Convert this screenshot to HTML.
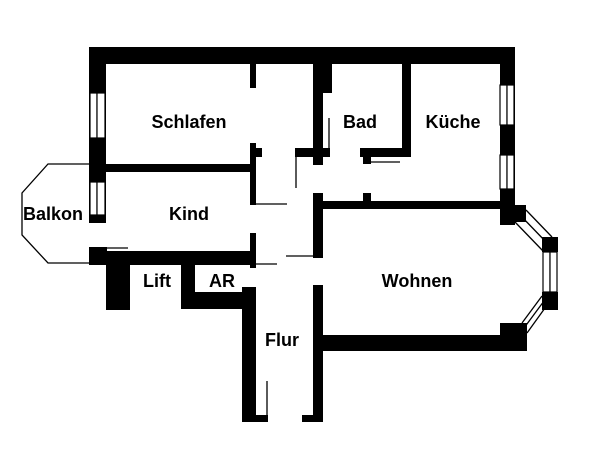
<!DOCTYPE html>
<html><head><style>
html,body{margin:0;padding:0;background:#fff;}
svg{display:block}
text{font-family:"Liberation Sans",Arial,sans-serif;font-weight:bold;font-size:18px;text-anchor:middle}
</style></head><body>
<svg width="600" height="451" viewBox="0 0 600 451">
<g fill="#000">
<rect x="89" y="47" width="426" height="17"/>
<rect x="89" y="47" width="17" height="176"/>
<rect x="106" y="164" width="146" height="8"/>
<rect x="250" y="64" width="6" height="24"/>
<rect x="250" y="143" width="6" height="62"/>
<rect x="256" y="148" width="6" height="9"/>
<rect x="250" y="233" width="6" height="35"/>
<rect x="89" y="247" width="18" height="18"/>
<rect x="107" y="251" width="149" height="14"/>
<rect x="106" y="265" width="24" height="45"/>
<rect x="181" y="265" width="14" height="44"/>
<rect x="181" y="292" width="75" height="17"/>
<rect x="242" y="287" width="14" height="135"/>
<rect x="242" y="415" width="26" height="7"/>
<rect x="313" y="285" width="10" height="137"/>
<rect x="302" y="415" width="21" height="7"/>
<rect x="313" y="193" width="10" height="65"/>
<rect x="323" y="335" width="192" height="16"/>
<rect x="500" y="323" width="27" height="28"/>
<rect x="323" y="201" width="180" height="8"/>
<rect x="363" y="193" width="8" height="8"/>
<rect x="500" y="47" width="15" height="170"/>
<rect x="500" y="200" width="15" height="25"/>
<rect x="512" y="205" width="14" height="17"/>
<rect x="313" y="64" width="10" height="101"/>
<rect x="313" y="64" width="19" height="29"/>
<rect x="295" y="148" width="35" height="9"/>
<rect x="402" y="64" width="9" height="93"/>
<rect x="360" y="148" width="51" height="9"/>
<rect x="363" y="157" width="8" height="7"/>
<rect x="542" y="237" width="16" height="15"/>
<rect x="542" y="292" width="16" height="18"/>
</g>
<g fill="#fff" stroke="#000" stroke-width="1.2">
<rect x="90" y="93" width="7" height="45"/><rect x="97" y="93" width="8" height="45"/>
<rect x="90" y="182" width="7" height="33"/><rect x="97" y="182" width="8" height="33"/>
<rect x="500" y="85" width="7" height="40"/><rect x="507" y="85" width="7" height="40"/>
<rect x="500" y="155" width="7" height="34"/><rect x="507" y="155" width="7" height="34"/>
<rect x="543" y="252" width="7" height="40"/><rect x="550" y="252" width="7" height="40"/>
</g>
<g stroke="#000" stroke-width="1.3" fill="none">
<line x1="515" y1="222" x2="543" y2="251"/>
<line x1="521" y1="216" x2="547" y2="243"/>
<line x1="526" y1="210" x2="552" y2="237"/>
<line x1="527" y1="333" x2="545" y2="308"/>
<line x1="524" y1="328" x2="544" y2="301"/>
<line x1="522" y1="323" x2="542" y2="296"/>
<polyline points="89,164 48,164 22,193 22,235 48,263 89,263"/>
<line x1="256" y1="204" x2="287" y2="204"/>
<line x1="256" y1="264" x2="277" y2="264"/>
<line x1="107" y1="248" x2="128" y2="248"/>
<line x1="286" y1="256" x2="313" y2="256"/>
<line x1="296" y1="157" x2="296" y2="188"/>
<line x1="329" y1="118" x2="329" y2="148"/>
<line x1="371" y1="162" x2="400" y2="162"/>
<line x1="267" y1="381" x2="267" y2="415"/>
</g>
<text x="189" y="128">Schlafen</text>
<text x="360" y="128">Bad</text>
<text x="453" y="128">Küche</text>
<text x="189" y="220">Kind</text>
<text x="53" y="220">Balkon</text>
<text x="157" y="287">Lift</text>
<text x="222" y="287">AR</text>
<text x="417" y="287">Wohnen</text>
<text x="282" y="346">Flur</text>
</svg>
</body></html>
